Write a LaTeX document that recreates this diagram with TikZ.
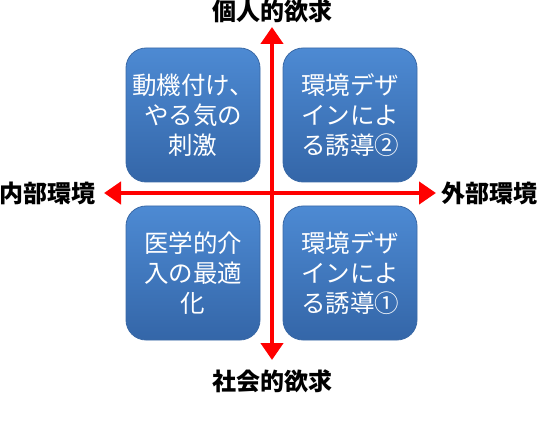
\documentclass[tikz,border=0pt]{standalone}
\usepackage{xcolor}
\usepackage{fontspec}
\newfontfamily\cjk{Noto Sans CJK JP}
\usepackage{tikz}
\usetikzlibrary{arrows.meta,positioning}

\definecolor{boxtop}{HTML}{4D8AD3}
\definecolor{boxbot}{HTML}{3466A8}
\definecolor{boxedge}{HTML}{3A69A6}
\definecolor{axisred}{HTML}{FF0000}

\begin{document}
\begin{tikzpicture}[
    x=1pt, y=-1pt,
    quad/.style={rectangle, draw=boxedge, line width=0.8pt, rounded corners=20pt, top color=boxtop, bottom color=boxbot, minimum width=134pt, minimum height=134pt, align=center, text=white, font=\cjk\fontsize{24.5}{30}\selectfont},
    axislabel/.style={font=\cjk\bfseries\fontsize{24}{28}\selectfont, text=black, inner sep=0pt},
    axis/.style={axisred, line width=4.5pt, -{Triangle[width=22pt,length=17pt]}}
]
\useasboundingbox (0,0) rectangle (542,428);

% Quadrant boxes
\node[quad] (motive) at (193,115) {動機付け、\\やる気の\\刺激};
\node[quad] (design2) at (350,115) {環境デザ\\インによ\\る誘導②};
\node[quad] (medical) at (193,273) {医学的介\\入の最適\\化};
\node[quad] (design1) at (350,273) {環境デザ\\インによ\\る誘導①};

% Axes
\coordinate (origin) at (272,193);
\coordinate (up) at (272,27);
\coordinate (down) at (272,360);
\coordinate (inner) at (104,193);
\coordinate (outer) at (436,193);
\draw[axis] (origin) -- (up);
\draw[axis] (origin) -- (down);
\draw[axis] (origin) -- (inner);
\draw[axis] (origin) -- (outer);

% Labels
\node[axislabel, above=4pt of up] (personal) {個人的欲求};
\node[axislabel, below=10pt of down] (social) {社会的欲求};
\node[axislabel, left=8pt of inner] (internal) {内部環境};
\node[axislabel, right=5pt of outer] (external) {外部環境};

\end{tikzpicture}
\end{document}
